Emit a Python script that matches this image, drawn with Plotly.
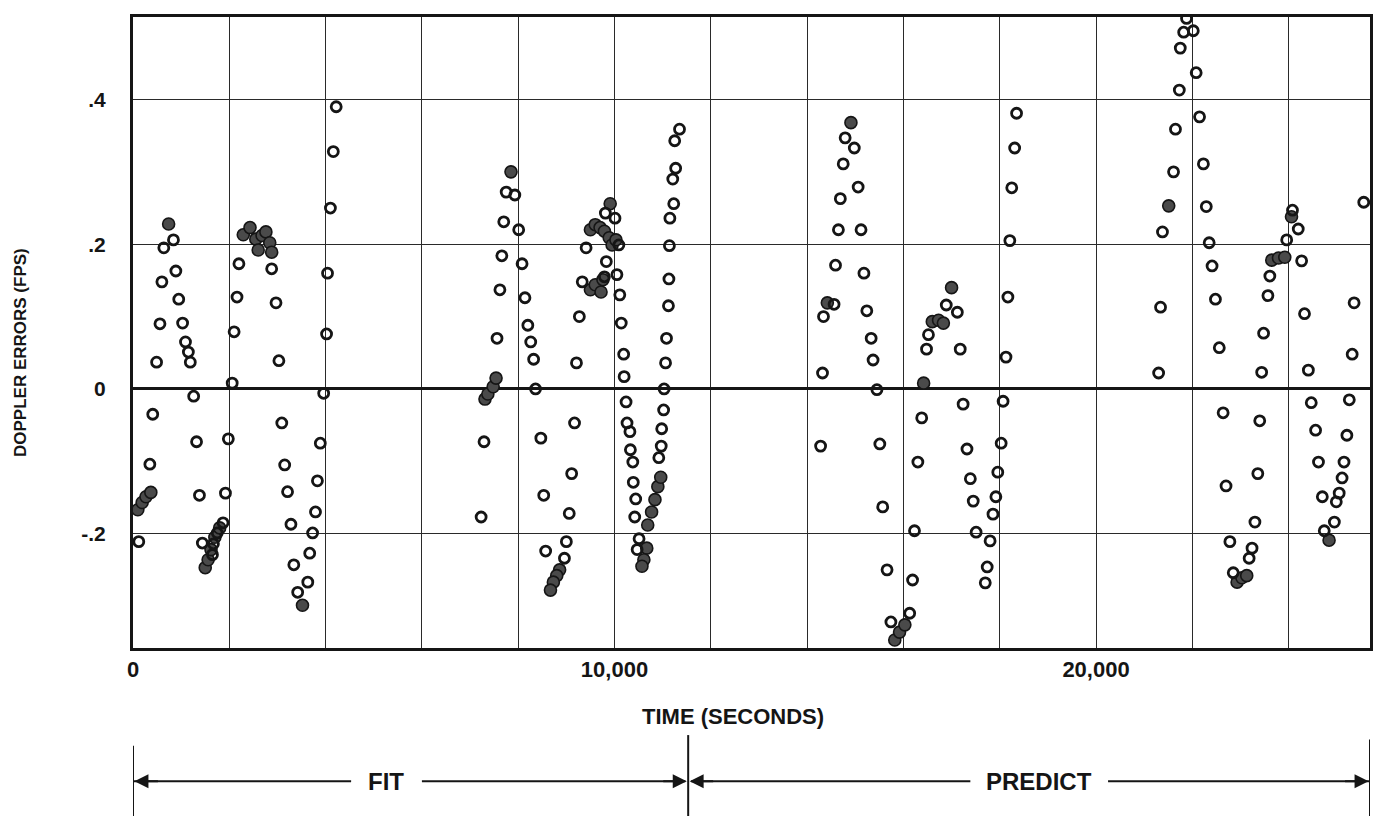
import plotly.graph_objects as go

# ---------------- data (time in seconds, doppler error in fps) ----------------
open_t = [
    120, 350, 410, 490, 560, 600, 890, 640, 840, 950, 1030, 1090, 1150, 1190, 1260, 1320, 1380, 1440,
    1650, 1670, 1750, 1870, 1920, 1980, 2060, 2100, 2160, 2200, 2880, 2970, 3030, 3090, 3150, 3210,
    3280, 3340, 3420, 3630, 3670, 3730, 3790, 3830, 3890, 3960, 4020, 4040, 4100, 4160, 4220,
    7230, 7290, 7560, 7620, 7660, 7700, 7750, 7930, 8010, 8080, 8140, 8200, 8260, 8320, 8360, 8470,
    8530, 8570, 8960, 9000, 9060, 9110, 9170, 9210, 9270, 9330, 9790, 9410, 9830, 9810, 10010, 10090,
    10050, 10110, 10140, 10190, 10200, 10240, 10260, 10320, 10330, 10380, 10390, 10440, 10420, 10510,
    10470, 10920, 10970, 10980, 11020, 11030, 11060, 11080, 11120, 11130, 11140, 11150, 11230, 11210,
    11270, 11250, 11350,
    14280, 14320, 14340, 14560, 14590, 14650, 14690, 14750, 14790, 14980, 15060, 15120, 15180, 15240,
    15330, 15370, 15450, 15510, 15570, 15660, 15740, 16130, 16190, 16230, 16300, 16380, 16480, 16520,
    16890, 17120, 17180, 17240, 17320, 17390, 17450, 17510, 17740, 17700, 17800, 17860, 17920, 17960,
    18030, 18070, 18130, 18170, 18210, 18250, 18310, 18350,
    21300, 21340, 21380, 21610, 21650, 21730, 21750, 21820, 21880, 22020, 22080, 22150, 22230, 22290,
    22350, 22410, 22480, 22560, 22640, 22700, 22780, 22850, 23180, 23240, 23300, 23360, 23400, 23440,
    23480, 23570, 23610, 23960, 24080, 24200, 24270, 24330, 24410, 24470, 24560, 24620, 24700, 24740,
    24950, 24990, 25050, 25110, 25150, 25210, 25260, 25320, 25360, 25560,
]
open_err = [
    -0.211, -0.104, -0.035, 0.037, 0.090, 0.148, 0.163, 0.195, 0.206, 0.124, 0.091, 0.065, 0.051, 0.037, -0.010, -0.073, -0.147, -0.213,
    -0.229, -0.214, -0.199, -0.185, -0.144, -0.069, 0.008, 0.079, 0.127, 0.173, 0.166, 0.119, 0.039, -0.047, -0.105, -0.142,
    -0.187, -0.243, -0.281, -0.267, -0.227, -0.199, -0.170, -0.127, -0.075, -0.006, 0.076, 0.160, 0.250, 0.328, 0.390,
    -0.177, -0.073, 0.070, 0.137, 0.184, 0.231, 0.272, 0.268, 0.220, 0.173, 0.126, 0.088, 0.065, 0.041, 0.000, -0.068,
    -0.147, -0.224, -0.234, -0.211, -0.172, -0.117, -0.047, 0.036, 0.100, 0.148, 0.155, 0.195, 0.176, 0.243, 0.236, 0.199,
    0.158, 0.130, 0.091, 0.048, 0.017, -0.018, -0.047, -0.059, -0.084, -0.101, -0.129, -0.152, -0.177, -0.207,
    -0.222, -0.095, -0.079, -0.055, -0.029, 0.000, 0.036, 0.070, 0.115, 0.152, 0.198, 0.236, 0.256, 0.290,
    0.305, 0.343, 0.359,
    -0.079, 0.022, 0.100, 0.117, 0.171, 0.220, 0.263, 0.311, 0.347, 0.333, 0.279, 0.220, 0.160, 0.108,
    0.070, 0.040, -0.001, -0.076, -0.163, -0.250, -0.322, -0.310, -0.264, -0.196, -0.101, -0.040, 0.055, 0.075,
    0.116, 0.106, 0.055, -0.021, -0.083, -0.124, -0.155, -0.198, -0.246, -0.268, -0.210, -0.173, -0.149, -0.115,
    -0.075, -0.017, 0.044, 0.127, 0.205, 0.278, 0.333, 0.381,
    0.022, 0.113, 0.217, 0.300, 0.359, 0.413, 0.471, 0.493, 0.512, 0.495, 0.437, 0.376, 0.311, 0.252,
    0.202, 0.170, 0.124, 0.057, -0.033, -0.134, -0.211, -0.254, -0.234, -0.220, -0.184, -0.117, -0.044, 0.023,
    0.077, 0.129, 0.156, 0.206, 0.247, 0.221, 0.177, 0.104, 0.026, -0.019, -0.057, -0.101, -0.149, -0.196,
    -0.184, -0.156, -0.144, -0.123, -0.101, -0.064, -0.015, 0.048, 0.119, 0.258,
]

# overlapping (smeared / filled) observations
dense_t = [
    100, 190, 270, 370, 740, 1500, 1560, 1620, 1700, 1800, 2290, 2430, 2550, 2680, 2760, 2840, 2880, 2600, 3520,
    7310, 7370, 7480, 7540, 7850, 8860, 8800, 8730, 8670, 9500, 9600, 9720, 9760, 9500, 9600, 9700, 9790,
    9890, 9950, 10030, 9910, 10670, 10610, 10570, 10690, 10770, 10840, 10900, 10960,
    14420, 14910, 15820, 15920, 16030, 16420, 16600, 16730, 16830, 17000,
    21510, 22930, 23030, 23130, 23650, 23790, 23920, 24060, 24840,
]
dense_err = [
    -0.167, -0.157, -0.149, -0.143, 0.228, -0.247, -0.236, -0.222, -0.205, -0.192, 0.213, 0.223, 0.207, 0.212, 0.217, 0.202, 0.189, 0.192, -0.299,
    -0.014, -0.007, 0.003, 0.015, 0.300, -0.250, -0.258, -0.267, -0.278, 0.137, 0.144, 0.134, 0.151, 0.220, 0.227, 0.223, 0.218,
    0.209, 0.199, 0.206, 0.256, -0.220, -0.236, -0.245, -0.188, -0.170, -0.153, -0.135, -0.122,
    0.119, 0.368, -0.347, -0.336, -0.326, 0.008, 0.093, 0.095, 0.091, 0.140,
    0.253, -0.267, -0.261, -0.258, 0.178, 0.181, 0.182, 0.238, -0.209,
]

x_grid = [0, 2000, 4000, 6000, 8000, 10000, 12000, 14000, 16000, 18000, 20000, 22000, 24000]
x_labels = ["0", "", "", "", "", "10,000", "", "", "", "", "20,000", "", ""]
y_grid = [-0.2, 0.0, 0.2, 0.4]
y_labels = ["-.2", "0", ".2", ".4"]

X_RANGE = [0, 25690]
Y_RANGE = [-0.358, 0.514]
FIT_END = 11530

FONT = "Liberation Sans, Arial, Helvetica, sans-serif"
INK = "#151515"

fig = go.Figure()
fig.add_trace(go.Scatter(
    x=dense_t, y=dense_err, mode="markers",
    marker=dict(symbol="circle", size=12, color="#4a4a4a", line=dict(color=INK, width=1.6)),
    showlegend=False, cliponaxis=True,
))
fig.add_trace(go.Scatter(
    x=open_t, y=open_err, mode="markers",
    marker=dict(symbol="circle-open", size=10, color=INK, line=dict(color=INK, width=2.8)),
    showlegend=False, cliponaxis=True,
))

# page body has an 8px default margin; size the figure so the plot area lands where the original does
# and the page does not overflow the window
fig.update_layout(
    width=1367, height=808,
    margin=dict(l=125, r=2, t=9, b=168),
    paper_bgcolor="white", plot_bgcolor="white",
    font=dict(family=FONT, color=INK, size=17),
)
fig.update_xaxes(
    range=X_RANGE, tickmode="array", tickvals=x_grid, ticktext=x_labels,
    showgrid=True, gridcolor="#2a2a2a", gridwidth=1.3,
    showline=True, linecolor=INK, linewidth=3, mirror=True,
    zeroline=False, ticks="", ticklabelstandoff=0,
    tickfont=dict(family=FONT, size=22, color=INK, weight="bold"),
)
fig.update_yaxes(
    range=Y_RANGE, tickmode="array", tickvals=y_grid, ticktext=y_labels,
    showgrid=True, gridcolor="#2a2a2a", gridwidth=1.3,
    showline=True, linecolor=INK, linewidth=3, mirror=True,
    zeroline=True, zerolinecolor=INK, zerolinewidth=2.6,
    ticks="", ticklabelstandoff=20,
    tickfont=dict(family=FONT, size=21, color=INK, weight="bold"),
)

# axis titles
fig.add_annotation(text="TIME (SECONDS)", xref="paper", yref="paper", x=0.485, y=-0.108,
                   xanchor="center", yanchor="middle", showarrow=False,
                   font=dict(family=FONT, size=22, color=INK, weight="bold"))
fig.add_annotation(text="DOPPLER ERRORS (FPS)", xref="paper", yref="paper", x=-0.0914, y=0.469,
                   xanchor="center", yanchor="middle", textangle=-90, showarrow=False,
                   font=dict(family=FONT, size=17, color=INK, weight="bold"))

# FIT / PREDICT bracket
Y_ARROW = -0.211
for xv, y0 in [(X_RANGE[0], -0.155), (FIT_END, -0.138), (X_RANGE[1], -0.145)]:
    fig.add_shape(type="line", xref="x", yref="paper", x0=xv, x1=xv, y0=y0, y1=-0.27,
                  line=dict(color=INK, width=2))
segments = [(X_RANGE[0], 4530), (6000, FIT_END - 60), (FIT_END + 60, 17390), (20250, X_RANGE[1] - 20)]
for a, b in segments:
    fig.add_shape(type="line", xref="x", yref="paper", x0=a, x1=b, y0=Y_ARROW, y1=Y_ARROW,
                  line=dict(color=INK, width=2))
for xv, off in [(X_RANGE[0] + 30, 25), (FIT_END - 30, -25), (FIT_END + 30, 25), (X_RANGE[1] - 30, -25)]:
    fig.add_annotation(x=xv, y=Y_ARROW, xref="x", yref="paper", ax=off, ay=0, text="",
                       showarrow=True, arrowhead=2, arrowsize=1.4, arrowwidth=2, arrowcolor=INK)
fig.add_annotation(text="FIT", x=5260, y=Y_ARROW, xref="x", yref="paper", showarrow=False,
                   xanchor="center", yanchor="middle",
                   font=dict(family=FONT, size=24, color=INK, weight="bold"))
fig.add_annotation(text="PREDICT", x=18810, y=Y_ARROW, xref="x", yref="paper", showarrow=False,
                   xanchor="center", yanchor="middle",
                   font=dict(family=FONT, size=24, color=INK, weight="bold"))

fig.write_html("out.html")
